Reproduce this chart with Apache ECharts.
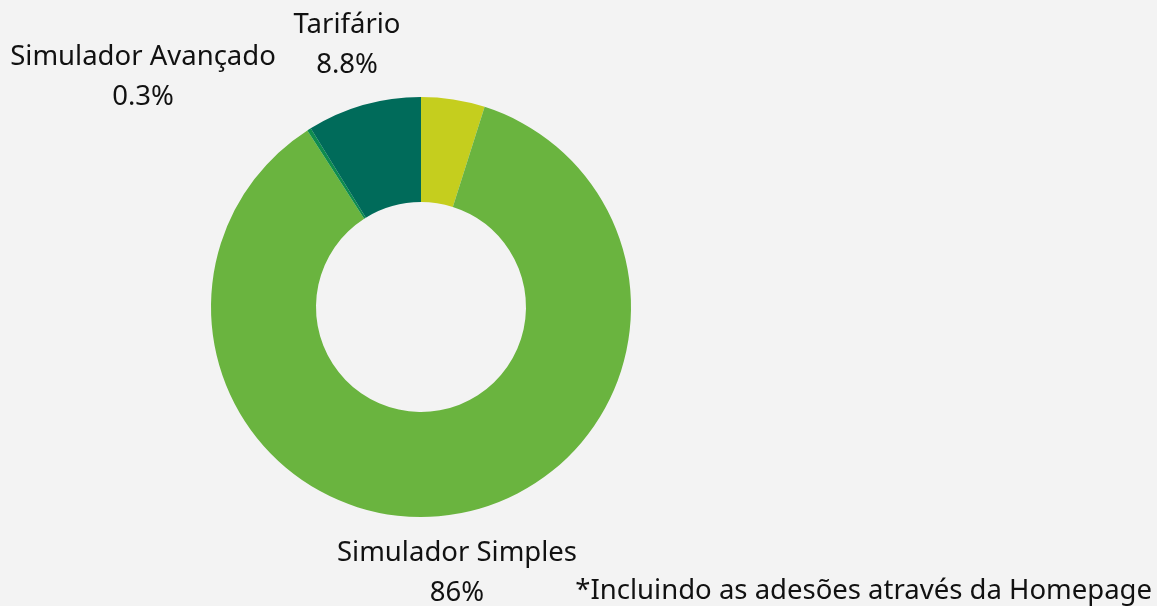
<!DOCTYPE html>
<html>
<head>
<meta charset="utf-8">
<script src="https://cdn.jsdelivr.net/npm/echarts@6/dist/echarts.min.js"></script>
<style>
  html, body { margin: 0; padding: 0; background: #f3f3f3; }
  #chart { width: 1157px; height: 606px; }
</style>
</head>
<body>
<div id="chart"></div>
<script>
// dados
var categories = ['Homepage', 'Simulador Simples', 'Simulador Avançado', 'Tarifário'];
var values = [4.9, 86, 0.3, 8.8];
var showLabel = [false, true, true, true];
var colors = ['#c5ce1e', '#6ab43f', '#0e8c4e', '#006b5a'];
// posição do centro de cada rótulo
var labelPos = [null, [457, 573], [143, 77], [347, 45]];

var chart = echarts.init(document.getElementById('chart'));

var pieData = categories.map(function (name, i) {
    return {
        name: name,
        value: values[i],
        itemStyle: { color: colors[i] },
        label: { show: showLabel[i] }
    };
});

var option = {
    backgroundColor: '#f3f3f3',
    animation: false,
    textStyle: { fontFamily: 'Noto Sans' },
    graphic: [{
        type: 'text',
        x: 1152,
        y: 591,
        style: {
            text: '*Incluindo as adesões através da Homepage',
            fontFamily: 'Noto Sans',
            fontSize: 27.5,
            fill: '#111',
            align: 'right',
            verticalAlign: 'middle'
        }
    }],
    series: [{
        type: 'pie',
        center: [421, 307],
        radius: [105, 210],
        startAngle: 90,
        clockwise: true,
        avoidLabelOverlap: false,
        silent: true,
        label: {
            position: 'outside',
            formatter: '{b}\n{c}%',
            fontFamily: 'Noto Sans',
            fontSize: 27.5,
            lineHeight: 40,
            color: '#111',
            align: 'center'
        },
        labelLine: { show: false },
        labelLayout: function (params) {
            var p = labelPos[params.dataIndex];
            if (!p) return {};
            return { x: p[0], y: p[1], align: 'center', verticalAlign: 'middle', hideOverlap: false };
        },
        data: pieData
    }]
};

chart.setOption(option);
</script>
</body>
</html>
